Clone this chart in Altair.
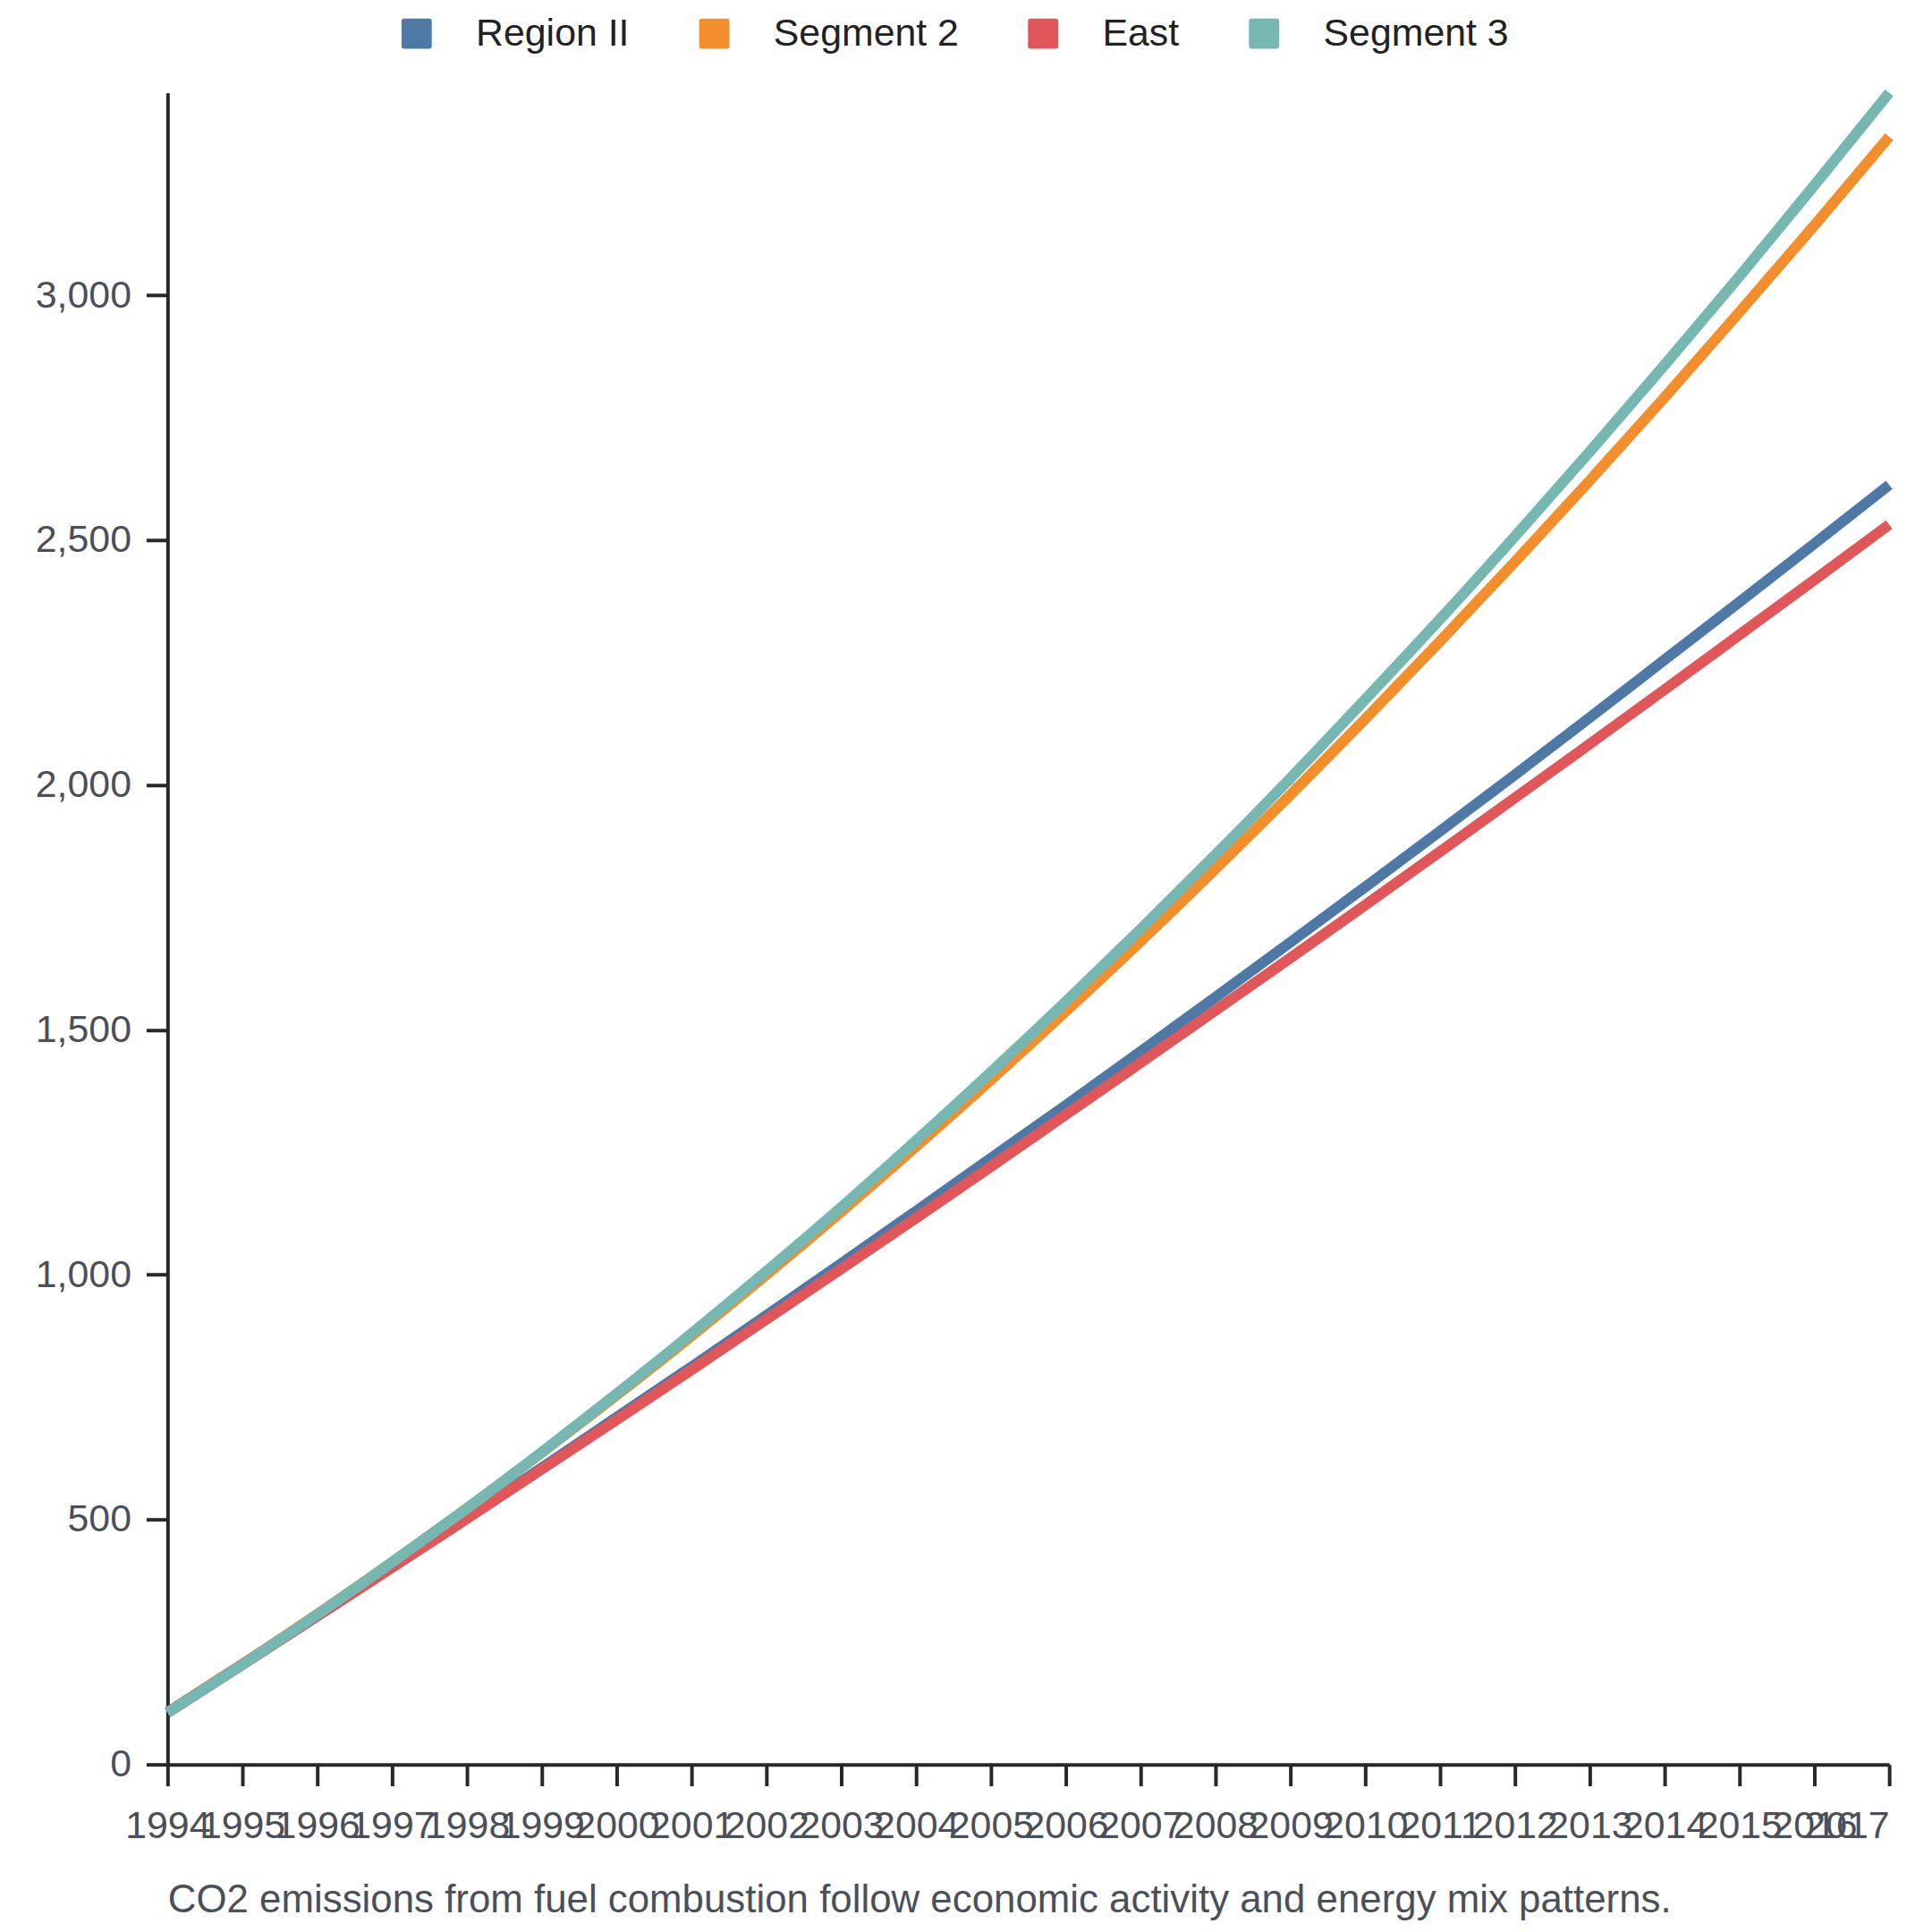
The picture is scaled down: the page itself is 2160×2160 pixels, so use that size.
import altair as alt
import pandas as pd

years = list(range(1994, 2018))
series_names = ["Region II", "Segment 2", "East", "Segment 3"]
region_ii = [106, 204, 303, 403, 504, 606, 709, 812, 917, 1023, 1130, 1238,
             1346, 1456, 1567, 1679, 1792, 1906, 2021, 2138, 2256, 2374, 2493, 2613]
segment_2 = [106, 205, 307, 413, 523, 637, 754, 875, 1000, 1129, 1262, 1398,
             1538, 1681, 1829, 1980, 2135, 2294, 2456, 2622, 2792, 2966, 3143, 3324]
east = [106, 204, 303, 402, 502, 603, 704, 806, 909, 1012, 1116, 1221,
        1327, 1433, 1540, 1647, 1755, 1864, 1974, 2084, 2195, 2307, 2419, 2532]
segment_3 = [106, 204, 306, 413, 523, 638, 757, 880, 1007, 1138, 1274, 1414,
             1558, 1706, 1858, 2014, 2175, 2339, 2508, 2681, 2858, 3039, 3225, 3414]
colors = ["#4e79a7", "#f28e2b", "#e15759", "#76b7b2"]
y_ticks = [0, 500, 1000, 1500, 2000, 2500, 3000]
caption = "CO2 emissions from fuel combustion follow economic activity and energy mix patterns."

rows = []
for name, vals in zip(series_names, [region_ii, segment_2, east, segment_3]):
    for yr, v in zip(years, vals):
        rows.append({"year": yr, "value": v, "series": name})
df = pd.DataFrame(rows)

FONT = "Liberation Sans"
AXIS_COLOR = "#25282c"
LABEL_COLOR = "#4b5058"
rounded_square = ("M -0.82 -1 L 0.82 -1 Q 1 -1 1 -0.82 L 1 0.82 Q 1 1 0.82 1 "
                  "L -0.82 1 Q -1 1 -1 0.82 L -1 -0.82 Q -1 -1 -0.82 -1 Z")

x_enc = alt.X(
    "year:Q",
    scale=alt.Scale(domain=[years[0], years[-1]], nice=False, zero=False),
    axis=alt.Axis(
        values=years, format="d", labelAngle=0, labelOverlap=False, grid=False,
        labelAlign={"condition": {"test": f"datum.value == {years[-1]}", "value": "right"}, "value": "center"},
        labelPadding=24,
        title=caption, titleX=0, titleY=165, titleAlign="left",
        titleBaseline="alphabetic", titleFontSize=44, titleFont=FONT,
        titleColor=LABEL_COLOR, titleFontWeight="normal", titleLimit=0,
    ),
)
y_enc = alt.Y(
    "value:Q",
    scale=alt.Scale(nice=False, zero=True),
    axis=alt.Axis(values=y_ticks, format=",.0f", title=None, grid=False, labelPadding=17),
)

lines = alt.Chart(df).mark_line(
    strokeWidth=12, interpolate="monotone", strokeCap="butt"
).encode(
    x=x_enc, y=y_enc,
    stroke=alt.Stroke("series:N", scale=alt.Scale(domain=series_names, range=colors), legend=None),
)

# legend-only layer: no rows pass the filter, entries come from the explicit domain
legend_layer = alt.Chart(df).transform_filter("false").mark_point(
    shape=rounded_square, filled=True, opacity=1, strokeWidth=0
).encode(
    x=x_enc, y=y_enc,
    fill=alt.Fill(
        "series:N", scale=alt.Scale(domain=series_names, range=colors),
        legend=alt.Legend(
            orient="none", legendX=258, legendY=-88, direction="horizontal", columns=4,
            title=None, symbolType=rounded_square, symbolSize=1156, symbolStrokeWidth=0,
            symbolOpacity=1, labelLimit=0,
            labelFontSize=43, labelFont=FONT, labelColor="#222222", labelOffset=45,
            columnPadding=73, padding=0,
        ),
    ),
)

chart = alt.layer(lines, legend_layer).resolve_scale(
    fill="independent", stroke="independent"
).properties(
    width=1932, height=1876,
    autosize=alt.AutoSizeParams(type="none"),
    padding={"left": 180, "top": 92, "right": 40, "bottom": 176},
).configure_view(
    stroke=None
).configure_axis(
    domainColor=AXIS_COLOR, domainWidth=4, tickColor=AXIS_COLOR, tickWidth=4, tickSize=24,
    labelFontSize=43, labelFont=FONT, labelColor=LABEL_COLOR,
)

chart.save("out.html", embed_options={"renderer": "svg", "actions": False})
